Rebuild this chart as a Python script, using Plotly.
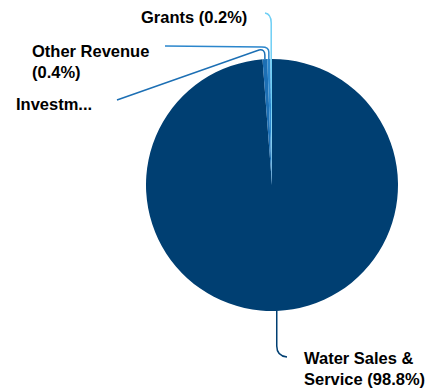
import math
import plotly.graph_objects as go

# Revenue breakdown (percent of total)
labels = ["Water Sales & Service", "Investment Income", "Other Revenue", "Grants"]
values = [98.8, 0.6, 0.4, 0.2]
colors = ["#003f72", "#1c6fb4", "#2b86cc", "#6fcff5"]

W, H = 427, 390
CX, CY, R = 272, 185, 126  # pie centre / radius in pixels


def px(x, y):
    """pixel (top-left origin) -> paper coordinates"""
    return x / W, 1 - y / H


fig = go.Figure(
    go.Pie(
        labels=labels,
        values=values,
        sort=False,
        direction="clockwise",
        rotation=0,
        marker=dict(colors=colors, line=dict(width=0)),
        textinfo="none",
        hoverinfo="label+percent",
        domain=dict(
            x=[(CX - R) / W, (CX + R) / W],
            y=[1 - (CY + R) / H, 1 - (CY - R) / H],
        ),
    )
)

# mid-angle of each slice (clockwise from 12 o'clock) and its edge point
total = sum(values)
edges = []
acc = 0.0
for v in values:
    mid = (acc + v / 2) / total * 2 * math.pi
    edges.append((CX + R * math.sin(mid), CY - R * math.cos(mid)))
    acc += v


def path(points):
    parts = []
    for cmd, *pts in points:
        coords = " ".join("%.5f,%.5f" % px(*p) for p in pts)
        parts.append(cmd + " " + coords)
    return " ".join(parts)


# connector routes from slice edge to label
ex, ey = edges[0]
water = path([("M", (ex, ey)), ("L", (ex, 346)), ("Q", (ex, 356), (287, 357))])
ex, ey = edges[1]
invest = path([("M", (ex, ey)), ("L", (ex, 55)), ("Q", (ex, 49), (259, 50)), ("L", (117, 100))])
ex, ey = edges[2]
other = path([("M", (ex, ey)), ("L", (ex, 52)), ("Q", (ex, 47), (262, 47)), ("L", (165, 46))])
ex, ey = edges[3]
grants = path([("M", (ex, ey)), ("L", (ex, 23)), ("Q", (ex, 14), (265, 13))])

shapes = []
for p, c in zip([water, invest, other, grants], colors):
    shapes.append(dict(type="path", path=p, xref="paper", yref="paper",
                       line=dict(color=c, width=1.5), layer="above"))

pct = ["%.1f%%" % v for v in values]
font = dict(family="Liberation Sans, Arial, sans-serif", size=16.5, color="#000000")
annos = [
    (302, 368.5, "left", "<b>Water Sales &amp;<br>Service (" + pct[0] + ")</b>"),
    (14, 104, "left", "<b>Investm...</b>"),
    (30, 61.5, "left", "<b>Other Revenue<br>(" + pct[2] + ")</b>"),
    (249, 17.5, "right", "<b>Grants (" + pct[3] + ")</b>"),
]
annotations = []
for x, y, anchor, txt in annos:
    ax, ay = px(x, y)
    annotations.append(dict(x=ax, y=ay, xref="paper", yref="paper", text=txt,
                            showarrow=False, xanchor=anchor, yanchor="middle",
                            align="left", font=font))

fig.update_layout(
    width=W, height=H,
    margin=dict(l=0, r=0, t=0, b=0),
    paper_bgcolor="white",
    plot_bgcolor="white",
    showlegend=False,
    shapes=shapes,
    annotations=annotations,
)

fig.write_html("out.html")
